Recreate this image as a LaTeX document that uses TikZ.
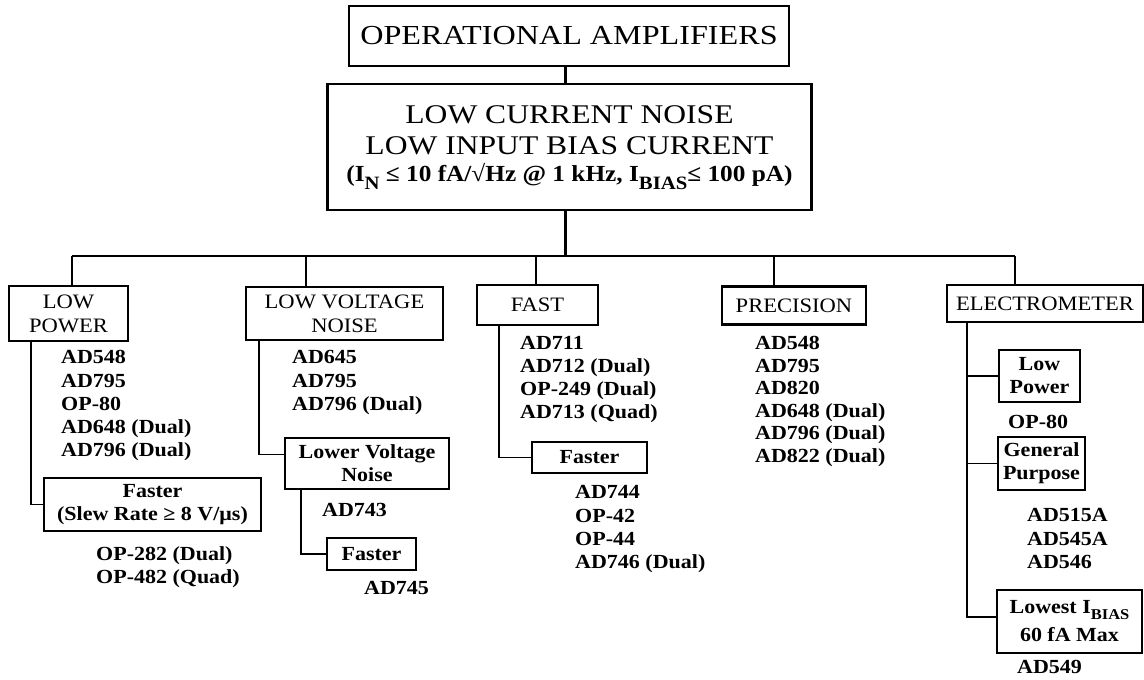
\documentclass[tikz,border=0pt]{standalone}
\usepackage{fontspec}
\setmainfont{Liberation Serif}[FakeStretch=1.1]
\newfontfamily\titlefont{Liberation Serif}[FakeStretch=1.17]
\usetikzlibrary{calc}
\newcommand{\lsub}[1]{\raisebox{-0.38em}{\scalebox{0.82}{#1}}}
\newcommand{\ssub}[1]{\raisebox{-0.28em}{\scalebox{0.75}{#1}}}
\begin{document}
\begin{tikzpicture}[x=1pt,y=-1pt,
  hdr/.style={draw, line width=2.6pt, inner sep=0pt, align=center, font=\fontsize{20.5}{24}\selectfont},
  subbox/.style={draw, line width=1.2pt, inner sep=0pt, align=center, font=\bfseries\fontsize{20}{23}\selectfont},
  lst/.style={anchor=base west, inner sep=0pt, font=\bfseries\fontsize{20}{23.3}\selectfont},
  txt/.style={anchor=base, inner sep=0pt},
  bus/.style={line width=2.3pt},
  trunk/.style={line width=1.2pt}]
\fill[white] (0,0) rectangle (1144,680);
\useasboundingbox (0,0) rectangle (1144,680);

% top boxes
\node[hdr, font=\titlefont\fontsize{27.5}{30}\selectfont, minimum width=440, minimum height=60] (top) at (569,36) {OPERATIONAL AMPLIFIERS};
\node[hdr, minimum width=484, minimum height=126] (main) at (569.5,147) {};
\node[txt, font=\titlefont\fontsize{27}{30}\selectfont] (m1) at (569.5,123.5) {LOW CURRENT NOISE};
\node[txt, font=\titlefont\fontsize{27}{30}\selectfont] (m2) at (569.5,154.5) {LOW INPUT BIAS CURRENT};
\node[txt, font=\bfseries\fontsize{23}{25}\selectfont] (m3) at (569.5,181) {(I\lsub{N} ≤ 10 fA/√Hz @ 1 kHz, I\lsub{BIAS}≤ 100 pA)};
\coordinate (mdrop) at (565.5,0);
\draw[bus] (top.south -| mdrop) -- (main.north -| mdrop);

% bus
\coordinate (b1) at (72,256);
\coordinate (b2) at (306,256);
\coordinate (b3) at (536,256);
\coordinate (b4) at (774,256);
\coordinate (b5) at (1015,256);
\draw[bus] (main.south -| mdrop) -- (mdrop |- b1);
\draw[bus] (b1) -- (b5);

% first level boxes
\node[hdr, minimum width=119, minimum height=55] (lp) at (68.5,313.5) {LOW\\POWER};
\node[hdr, minimum width=197, minimum height=53] (lvn) at (344.5,313.5) {LOW VOLTAGE\\NOISE};
\node[hdr, minimum width=121, minimum height=40] (fast) at (537.5,305) {FAST};
\node[hdr, minimum width=144, minimum height=38] (prec) at (794,305.5) {PRECISION};
\node[hdr, minimum width=196, minimum height=37] (elec) at (1045,303.5) {ELECTROMETER};
\draw[bus] (b1) -- (b1 |- lp.north);
\draw[bus] (b2) -- (b2 |- lvn.north);
\draw[bus] (b3) -- (b3 |- fast.north);
\draw[bus] (b4) -- (b4 |- prec.north);
\draw[bus] (b5) -- (b5 |- elec.north);

% trunk x positions
\coordinate (xlp) at (31,0);
\coordinate (xlvn) at (259,0);
\coordinate (xlvnl) at (301,0);
\coordinate (xfast) at (499,0);
\coordinate (xel) at (967,0);

% LOW POWER column
\foreach \t [count=\i] in {AD548,AD795,OP-80,AD648 (Dual),AD796 (Dual)}
  \node[lst] (lpa\i) at (61,{363.7+(\i-1)*23.3}) {\t};
\node[subbox, minimum width=217, minimum height=53] (lpf) at (152.5,504.5) {Faster\\(Slew Rate ≥ 8 V/μs)};
\draw[trunk] (lp.south -| xlp) |- (lpf.west);
\foreach \t [count=\i] in {OP-282 (Dual),OP-482 (Quad)}
  \node[lst] (lpb\i) at (96,{560+(\i-1)*23.3}) {\t};

% LOW VOLTAGE NOISE column
\foreach \t [count=\i] in {AD645,AD795,AD796 (Dual)}
  \node[lst] (lva\i) at (292,{363.7+(\i-1)*23.3}) {\t};
\node[subbox, minimum width=164, minimum height=51] (lvnl) at (367,463.5) {Lower Voltage\\Noise};
\draw[trunk] (lvn.south -| xlvn) |- ([yshift=9pt]lvnl.west);
\node[lst] (lvb1) at (322,516.7) {AD743};
\node[subbox, minimum width=89, minimum height=32] (lvnf) at (371.5,554) {Faster};
\draw[trunk] (lvnl.south -| xlvnl) |- (lvnf.west);
\node[lst] (lvc1) at (364,594.7) {AD745};

% FAST column
\foreach \t [count=\i] in {AD711,AD712 (Dual),OP-249 (Dual),AD713 (Quad)}
  \node[lst] (fa\i) at (520,{349.7+(\i-1)*23}) {\t};
\node[subbox, minimum width=115, minimum height=31] (fastf) at (589.5,457.5) {Faster};
\draw[trunk] (fast.south -| xfast) |- (fastf.west);
\foreach \t [count=\i] in {AD744,OP-42,OP-44,AD746 (Dual)}
  \node[lst] (fb\i) at (575,{498.7+(\i-1)*23.3}) {\t};

% PRECISION column
\foreach \t [count=\i] in {AD548,AD795,AD820,AD648 (Dual),AD796 (Dual),AD822 (Dual)}
  \node[lst] (pa\i) at (755,{349.7+(\i-1)*22.5}) {\t};

% ELECTROMETER column
\node[subbox, minimum width=81, minimum height=52] (el1) at (1039.5,376) {Low\\Power};
\node[lst] (ea1) at (1008,428.7) {OP-80};
\node[subbox, minimum width=87, minimum height=53] (el2) at (1041.5,463.5) {General\\Purpose};
\foreach \t [count=\i] in {AD515A,AD545A,AD546}
  \node[lst] (eb\i) at (1027,{521.7+(\i-1)*23.3}) {\t};
\node[subbox, font=\bfseries\fontsize{20}{28}\selectfont, minimum width=145, minimum height=63] (el3) at (1069.5,621.5) {Lowest I\ssub{BIAS}\\60 fA Max};
\node[lst] (ec1) at (1017,673.7) {AD549};
\draw[trunk] (elec.south -| xel) |- ([yshift=4.5pt]el3.west);
\draw[trunk] (xel |- el1.west) -- (el1.west);
\draw[trunk] (xel |- el2.west) -- (el2.west);
\end{tikzpicture}
\end{document}
